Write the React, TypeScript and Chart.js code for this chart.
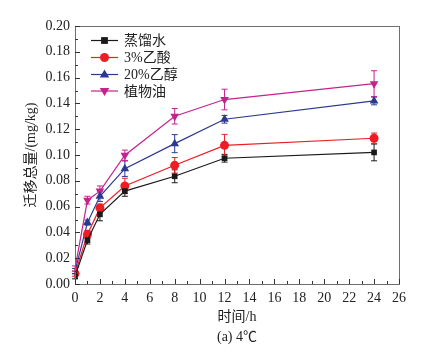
import { useEffect, useRef } from 'react';
import { Chart, registerables } from 'chart.js';
Chart.register(...registerables);

const times = [0, 1, 2, 4, 8, 12, 24];
const seriesNames = ['蒸馏水', '3%乙酸', '20%乙醇', '植物油'];
const water = [0.006, 0.034, 0.054, 0.072, 0.0835, 0.0975, 0.102];
const waterErr = [0.002, 0.003, 0.005, 0.004, 0.005, 0.003, 0.0065];
const acetic = [0.008, 0.0385, 0.059, 0.076, 0.092, 0.1075, 0.113];
const aceticErr = [0.002, 0.003, 0.003, 0.006, 0.006, 0.0085, 0.004];
const ethanol = [0.01, 0.0476, 0.068, 0.0894, 0.1088, 0.1277, 0.1419];
const ethanolErr = [0.002, 0.002, 0.004, 0.006, 0.007, 0.003, 0.003];
const oil = [0.012, 0.065, 0.072, 0.0998, 0.13, 0.143, 0.1553];
const oilErr = [0.002, 0.003, 0.004, 0.004, 0.006, 0.008, 0.01];
const xTitle = '时间/h';
const yTitle = '迁移总量/(mg/kg)';
const caption = '(a) 4℃';

const FONT = '"Liberation Serif", "Noto Sans CJK SC", serif';
const colors = ['#1a1a1a', '#ee1c25', '#2b3990', '#c4238c'];
const styles = ['rect', 'circle', 'triangle', 'triangle'];
const rotations = [0, 0, 0, 180];
const radii = [4, 4.5, 5, 5];
const values = [water, acetic, ethanol, oil];
const errors = [waterErr, aceticErr, ethanolErr, oilErr];

function drawMarker(ctx: CanvasRenderingContext2D, style: string, rot: number, r: number, x: number, y: number, color: string) {
  ctx.save();
  ctx.fillStyle = color;
  ctx.translate(x, y);
  ctx.rotate((rot * Math.PI) / 180);
  ctx.beginPath();
  if (style === 'rect') {
    const s = r * 0.85;
    ctx.rect(-s, -s, 2 * s, 2 * s);
  } else if (style === 'circle') {
    ctx.arc(0, 0, r, 0, Math.PI * 2);
  } else {
    ctx.moveTo(0, -r);
    ctx.lineTo(r * 0.95, r * 0.6);
    ctx.lineTo(-r * 0.95, r * 0.6);
    ctx.closePath();
  }
  ctx.fill();
  ctx.restore();
}

const deco = {
  id: 'deco',
  beforeDatasetsDraw(chart: any) {
    const ctx = chart.ctx as CanvasRenderingContext2D;
    const ys = chart.scales.y;
    chart.data.datasets.forEach((ds: any, di: number) => {
      const meta = chart.getDatasetMeta(di);
      ctx.save();
      ctx.strokeStyle = colors[di];
      ctx.lineWidth = 1;
      ds.data.forEach((p: any, i: number) => {
        const e = errors[di][i];
        const x = meta.data[i].x;
        const y1 = ys.getPixelForValue(p.y + e);
        const y2 = ys.getPixelForValue(p.y - e);
        ctx.beginPath();
        ctx.moveTo(x, y1);
        ctx.lineTo(x, y2);
        ctx.moveTo(x - 3, y1);
        ctx.lineTo(x + 3, y1);
        ctx.moveTo(x - 3, y2);
        ctx.lineTo(x + 3, y2);
        ctx.stroke();
      });
      ctx.restore();
    });
  },
  afterDraw(chart: any) {
    const ctx = chart.ctx as CanvasRenderingContext2D;
    const { left, right, top, bottom } = chart.chartArea;
    const xs = chart.scales.x;
    const ys = chart.scales.y;
    ctx.save();
    ctx.strokeStyle = '#6e6e6e';
    ctx.lineWidth = 1;
    ctx.strokeRect(Math.round(left) + 0.5, Math.round(top) + 0.5, Math.round(right - left), Math.round(bottom - top));
    ctx.strokeStyle = '#333';
    ctx.beginPath();
    for (let t = 0; t <= 26; t++) {
      const x = Math.round(xs.getPixelForValue(t)) + 0.5;
      const len = t % 2 === 0 ? 5 : 3;
      ctx.moveTo(x, bottom);
      ctx.lineTo(x, bottom - len);
    }
    for (let k = 0; k <= 20; k++) {
      const y = Math.round(ys.getPixelForValue(k * 0.01)) + 0.5;
      const len = k % 2 === 0 ? 5 : 3;
      ctx.moveTo(left, y);
      ctx.lineTo(left + len, y);
    }
    ctx.stroke();

    // legend
    const rowsY = [40.5, 57.5, 74.5, 91];
    ctx.font = `14px ${FONT}`;
    ctx.textBaseline = 'middle';
    ctx.textAlign = 'left';
    seriesNames.forEach((name, i) => {
      const y = rowsY[i];
      ctx.strokeStyle = colors[i];
      ctx.lineWidth = 1.2;
      ctx.beginPath();
      ctx.moveTo(91, y);
      ctx.lineTo(118, y);
      ctx.stroke();
      drawMarker(ctx, styles[i], rotations[i], radii[i], 104.5, y, colors[i]);
      ctx.fillStyle = '#222';
      ctx.fillText(name, 124, y + 1);
    });

    // titles
    ctx.fillStyle = '#222';
    ctx.textAlign = 'center';
    ctx.font = `14px ${FONT}`;
    const cx = (left + right) / 2;
    ctx.fillText(xTitle, cx, 317);
    ctx.fillText(caption, cx, 337);
    ctx.save();
    ctx.translate(31, (top + bottom) / 2);
    ctx.rotate(-Math.PI / 2);
    ctx.fillText(yTitle, 0, 0);
    ctx.restore();
    ctx.restore();
  },
};

export default function App() {
  const ref = useRef<HTMLCanvasElement>(null);
  useEffect(() => {
    if (!ref.current) return;
    const datasets = values.map((vals, i) => ({
      label: seriesNames[i],
      data: times.map((t, j) => ({ x: t, y: vals[j] })),
      borderColor: colors[i],
      backgroundColor: colors[i],
      borderWidth: 1.2,
      pointStyle: styles[i] as any,
      pointRotation: rotations[i],
      pointRadius: styles[i] === 'rect' ? 4 : radii[i],
      pointBorderWidth: 0,
      tension: 0,
    }));
    const chart = new Chart(ref.current, {
      type: 'line',
      data: { datasets },
      plugins: [deco],
      options: {
        animation: false,
        responsive: false,
        layout: { padding: { left: 0, right: 45, top: 26, bottom: 0 } },
        plugins: { legend: { display: false }, tooltip: { enabled: false } },
        scales: {
          x: {
            type: 'linear',
            min: 0,
            max: 26,
            afterFit: (s: any) => { s.height = 69; },
            grid: { display: false, drawTicks: false },
            border: { display: false },
            ticks: { stepSize: 2, padding: 6, color: '#222', font: { family: FONT, size: 14 }, maxRotation: 0 },
          },
          y: {
            type: 'linear',
            min: 0,
            max: 0.2,
            afterFit: (s: any) => { s.width = 75; },
            grid: { display: false, drawTicks: false },
            border: { display: false },
            ticks: {
              stepSize: 0.02,
              padding: 5,
              color: '#222',
              font: { family: FONT, size: 14 },
              callback: (v: any) => Number(v).toFixed(2),
            },
          },
        },
      },
    });
    return () => chart.destroy();
  }, []);
  return (
    <div style={{ position: 'absolute', left: 0, top: 0, width: 444, height: 353, background: '#fff' }}>
      <canvas ref={ref} width={444} height={353} style={{ display: 'block' }} />
    </div>
  );
}
